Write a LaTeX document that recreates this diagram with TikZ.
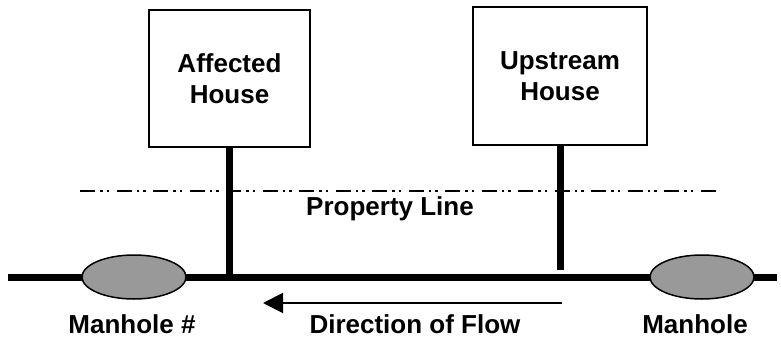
\documentclass[tikz,border=0pt]{standalone}
\usepackage{fontspec}
\setmainfont{Liberation Sans}
\usetikzlibrary{arrows.meta, shapes.geometric, positioning}

\begin{document}
\begin{tikzpicture}[x=1pt, y=-1pt,
    house/.style={draw, rectangle, line width=1.5pt, inner sep=0pt, align=center,
                  font=\fontsize{26}{31}\selectfont\bfseries},
    manhole/.style={draw, ellipse, fill=black!40, line width=1.5pt, inner sep=0pt,
                    minimum width=104pt, minimum height=44pt},
    pipe/.style={line width=7pt},
    label/.style={font=\fontsize{26}{31}\selectfont\bfseries, inner sep=0pt, anchor=base},
    propline/.style={line width=1.5pt, dash pattern=on 15pt off 5pt on 2.5pt off 4pt on 2.5pt off 7.5pt}]
  \useasboundingbox (0,0) rectangle (781,337);

  % houses
  \node [house, minimum width=161pt, minimum height=137pt] (affected) at (229.5,78.5) {Affected\\House};
  \node [house, minimum width=174pt, minimum height=138pt] (upstream) at (560,76) {Upstream\\House};

  % property line
  \coordinate (propW) at (80,191);
  \coordinate (propE) at (718,191);
  \draw [propline] (propW) -- (propE);
  \node [label] (proptext) at (390,215) {Property Line};

  % sewer main
  \coordinate (mainW) at (8,277);
  \coordinate (mainE) at (777,277);
  \coordinate (upJoin) at (560,270);
  \draw [pipe] (mainW) -- (mainE);
  \draw [pipe] (affected.south) -- (affected.south |- mainW);
  \draw [pipe] (upstream.south) -- (upJoin);
  \node [manhole] (mhW) at (134,277) {};
  \node [manhole] (mhE) at (702,277) {};

  % flow
  \coordinate (flowTail) at (562,303);
  \coordinate (flowHead) at (263,303);
  \draw [line width=2pt, -{Triangle[length=20pt, width=20pt]}] (flowTail) -- (flowHead);

  \node [label] (mhWtext) at (132,333) {Manhole \#};
  \node [label] (flowtext) at (415,333) {Direction of Flow};
  \node [label] (mhEtext) at (695,333) {Manhole};
\end{tikzpicture}
\end{document}
